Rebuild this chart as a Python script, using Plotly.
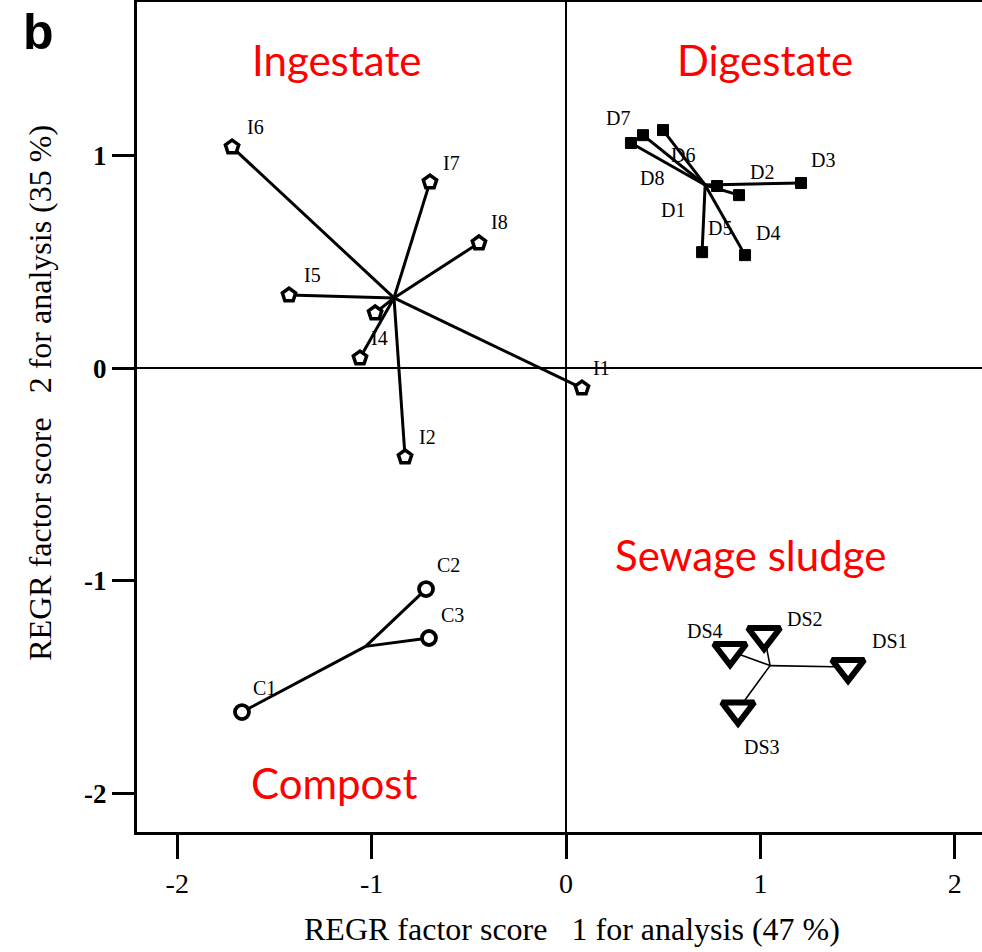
import plotly.graph_objects as go

# ---------------- data ----------------
ing_names = ["I1", "I2", "I3", "I4", "I5", "I6", "I7", "I8"]
ing_x = [0.082, -0.828, -0.982, -1.060, -1.425, -1.718, -0.700, -0.448]
ing_y = [-0.094, -0.418, 0.259, 0.047, 0.343, 1.039, 0.874, 0.588]

dig_names = ["D1", "D2", "D3", "D4", "D5", "D6", "D7", "D8"]
dig_x = [0.777, 0.890, 1.209, 0.921, 0.700, 0.499, 0.396, 0.334]
dig_y = [0.856, 0.813, 0.870, 0.531, 0.545, 1.119, 1.095, 1.058]

ss_names = ["DS1", "DS2", "DS3", "DS4"]
ss_x = [1.451, 1.019, 0.885, 0.844]
ss_y = [-1.405, -1.255, -1.605, -1.330]

comp_names = ["C1", "C2", "C3"]
comp_x = [-1.667, -0.720, -0.705]
comp_y = [-1.617, -1.039, -1.269]

x_ticks = [-2, -1, 0, 1, 2]
y_ticks = [1, 0, -1, -2]

group_labels = ["Ingestate", "Digestate", "Sewage sludge", "Compost"]
x_title = "REGR factor score   1 for analysis (47 %)"
y_title = "REGR factor score   2 for analysis (35 %)"

# label offsets in pixels (dx right, dy up) – styling only
label_shift = {
    "I1": (20, 20), "I2": (22, 20), "I3": None, "I4": (20, 20), "I5": (23, 20),
    "I6": (23, 20), "I7": (22, 19), "I8": (21, 21),
    "D1": (-44, -24), "D2": (23, 23), "D3": (22, 23), "D4": (23, 22),
    "D5": (18, 24), "D6": (20, -25), "D7": (-25, 17), "D8": (21, -35),
    "DS1": (42, 26), "DS2": (41, 16), "DS3": (24, -38), "DS4": (-25, 20),
    "C1": (23, 24), "C2": (22, 24), "C3": (24, 23),
}
group_label_pos = {
    "Ingestate": (-1.178, 1.448), "Digestate": (1.024, 1.448),
    "Sewage sludge": (0.947, -0.879), "Compost": (-1.193, -1.951),
}

fig = go.Figure()


def star(xs, ys, width):
    cx = sum(xs) / len(xs)
    cy = sum(ys) / len(ys)
    lx, ly = [], []
    for x, y in zip(xs, ys):
        lx += [cx, x, None]
        ly += [cy, y, None]
    fig.add_trace(go.Scatter(x=lx, y=ly, mode="lines",
                             line=dict(color="black", width=width),
                             hoverinfo="skip", showlegend=False))


star(ing_x, ing_y, 3)
star(dig_x, dig_y, 3)
star(ss_x, ss_y, 1.6)
star(comp_x, comp_y, 3)

fig.add_trace(go.Scatter(x=ing_x, y=ing_y, mode="markers", showlegend=False,
                         marker=dict(symbol="pentagon", size=14, color="white",
                                     line=dict(color="black", width=3.5))))
fig.add_trace(go.Scatter(x=dig_x, y=dig_y, mode="markers", showlegend=False,
                         marker=dict(symbol="square", size=11, color="black",
                                     line=dict(color="black", width=1))))
fig.add_trace(go.Scatter(x=ss_x, y=ss_y, mode="markers", showlegend=False,
                         marker=dict(symbol="triangle-down", size=28, color="white",
                                     line=dict(color="black", width=6))))
fig.add_trace(go.Scatter(x=comp_x, y=comp_y, mode="markers", showlegend=False,
                         marker=dict(symbol="circle", size=14, color="white",
                                     line=dict(color="black", width=3.8))))

for names, xs, ys in [(ing_names, ing_x, ing_y), (dig_names, dig_x, dig_y),
                      (ss_names, ss_x, ss_y), (comp_names, comp_x, comp_y)]:
    for n, x, y in zip(names, xs, ys):
        sh = label_shift.get(n)
        if sh is None:
            continue
        fig.add_annotation(x=x, y=y, text=n, showarrow=False,
                           xshift=sh[0], yshift=sh[1],
                           font=dict(family="Liberation Serif", size=20, color="black"))

for g in group_labels:
    gx, gy = group_label_pos[g]
    fig.add_annotation(x=gx, y=gy, text=g, showarrow=False,
                       xanchor="center", yanchor="middle",
                       font=dict(family="Lato", size=42, color="#ff0000"))

fig.add_annotation(xref="paper", yref="paper", x=-0.117, y=1.0, text="<b>b</b>",
                   xanchor="center", yanchor="top",
                   showarrow=False, font=dict(family="Liberation Sans", size=50, color="black"))

# axis titles placed as annotations (paper coords)
fig.add_annotation(xref="paper", yref="paper", x=0.515, y=-0.117, text=x_title,
                   xanchor="center", yanchor="middle", showarrow=False,
                   font=dict(family="Liberation Serif", size=32, color="black"))
fig.add_annotation(xref="paper", yref="paper", x=-0.115, y=0.529, text=y_title,
                   textangle=-90, xanchor="center", yanchor="middle", showarrow=False,
                   font=dict(family="Liberation Serif", size=32, color="black"))

fig.update_layout(
    width=982, height=952,
    margin=dict(l=137, r=0, t=2, b=120),
    paper_bgcolor="white", plot_bgcolor="white",
    xaxis=dict(range=[-2.207, 2.14], tickvals=x_ticks, ticktext=[str(v) for v in x_ticks],
               showgrid=False, zeroline=True, zerolinecolor="black", zerolinewidth=1.8,
               showline=True, linecolor="black", linewidth=3, mirror=True,
               ticks="outside", ticklen=24, tickwidth=3, tickcolor="black",
               tickfont=dict(family="Liberation Serif", size=28, color="black")),
    yaxis=dict(range=[-2.181, 1.721], tickvals=y_ticks, ticktext=[str(v) for v in y_ticks],
               showgrid=False, zeroline=True, zerolinecolor="black", zerolinewidth=1.8,
               showline=True, linecolor="black", linewidth=3, mirror=False,
               ticks="outside", ticklen=22, tickwidth=3, tickcolor="black",
               tickfont=dict(family="Liberation Serif", size=27, color="black", weight="bold")),
)

fig.write_html("out.html")
